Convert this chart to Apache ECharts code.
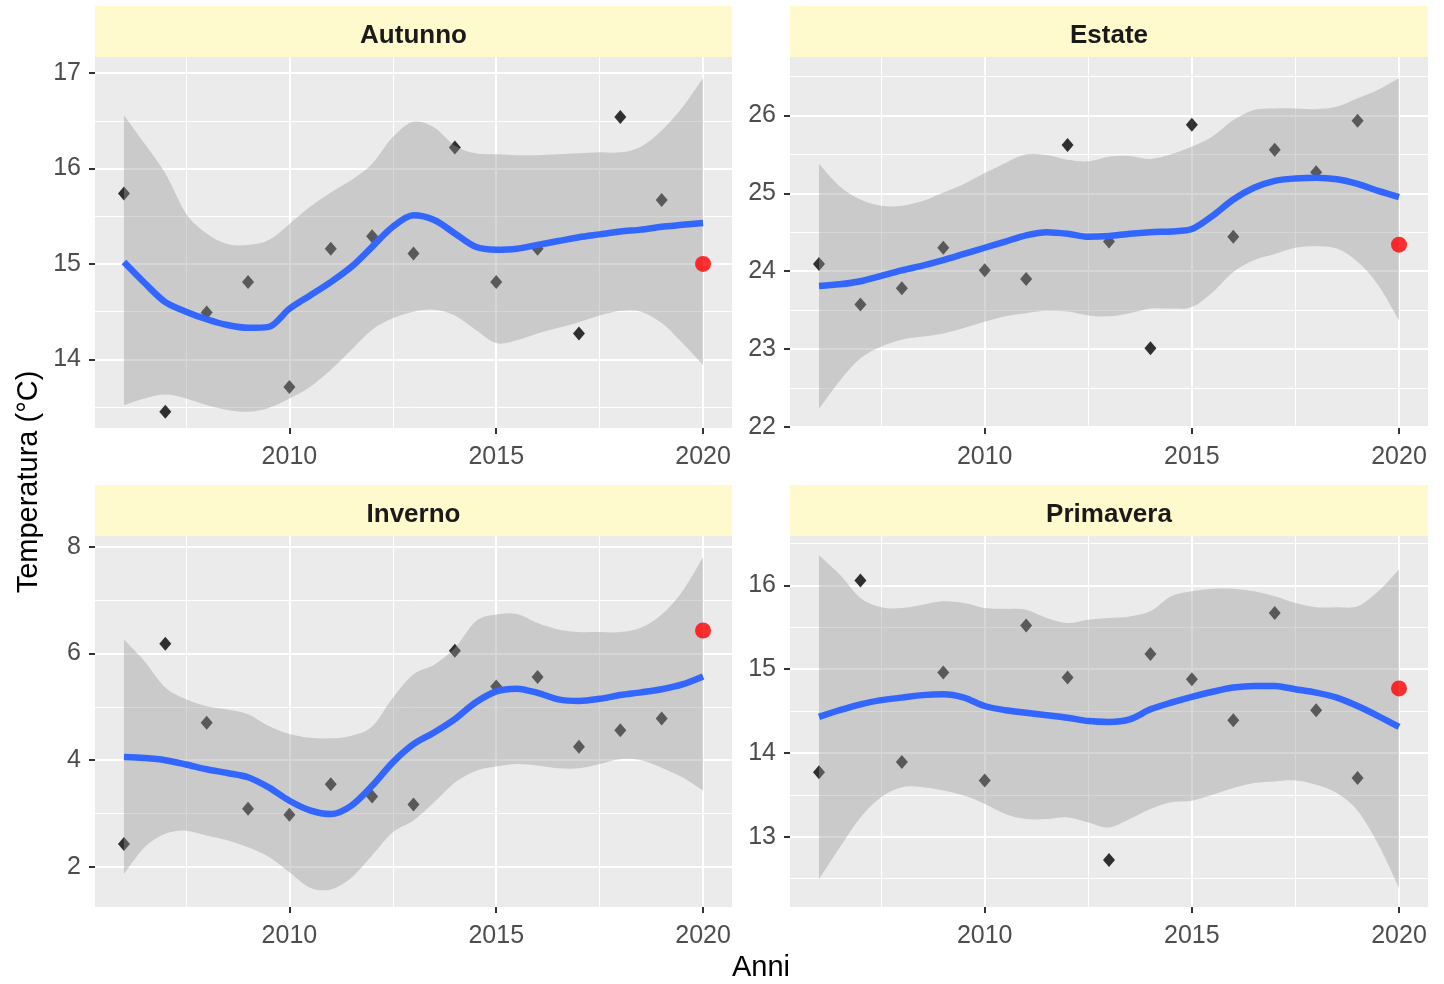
<!DOCTYPE html>
<html><head><meta charset="utf-8">
<script src="https://cdn.jsdelivr.net/npm/echarts@6.0.0/dist/echarts.min.js"></script>
<style>html,body{margin:0;padding:0;background:#fff}#c{width:1444px;height:984px}</style>
</head><body><div id="c"></div>
<script>
// ---------- DATA ----------
const panelNames = ['Autunno', 'Estate', 'Inverno', 'Primavera'];
const years = [2006, 2007, 2008, 2009, 2010, 2011, 2012, 2013, 2014, 2015, 2016, 2017, 2018, 2019];
const year2020 = 2020;

const autunnoObs   = [15.74, 13.45, 14.49, 14.81, 13.71, 15.16, 15.29, 15.11, 16.22, 14.81, 15.16, 14.27, 16.54, 15.67];
const estateObs    = [24.09, 23.57, 23.78, 24.30, 24.01, 23.90, 25.62, 24.38, 23.01, 25.88, 24.44, 25.56, 25.27, 25.93];
const invernoObs   = [2.43, 6.18, 4.70, 3.09, 2.98, 3.55, 3.32, 3.17, 6.05, 5.38, 5.56, 4.25, 4.56, 4.78];
const primaveraObs = [13.77, 16.06, 13.89, 14.96, 13.67, 15.52, 14.90, 12.72, 15.18, 14.88, 14.39, 15.67, 14.51, 13.70];

const autunno2020 = 15.00;
const estate2020 = 24.34;
const inverno2020 = 6.43;
const primavera2020 = 14.77;

const bandYears = [2006, 2006.5, 2007, 2007.5, 2008, 2008.5, 2009, 2009.5, 2010, 2010.5, 2011, 2011.5, 2012, 2012.5, 2013, 2013.5, 2014, 2014.5, 2015, 2015.5, 2016, 2016.5, 2017, 2017.5, 2018, 2018.5, 2019, 2019.5, 2020];

const autunnoFit   = [15.02, 14.80, 14.60, 14.50, 14.42, 14.36, 14.33, 14.34, 14.53, 14.67, 14.81, 14.97, 15.18, 15.39, 15.51, 15.46, 15.32, 15.18, 15.15, 15.16, 15.20, 15.24, 15.28, 15.31, 15.34, 15.36, 15.39, 15.41, 15.43];
const autunnoLower = [13.52, 13.59, 13.63, 13.59, 13.52, 13.47, 13.45, 13.49, 13.59, 13.71, 13.89, 14.10, 14.31, 14.43, 14.50, 14.52, 14.46, 14.31, 14.17, 14.20, 14.27, 14.33, 14.39, 14.46, 14.51, 14.50, 14.38, 14.17, 13.94];
const autunnoUpper = [16.56, 16.26, 15.95, 15.53, 15.32, 15.21, 15.20, 15.25, 15.42, 15.60, 15.75, 15.88, 16.05, 16.33, 16.49, 16.43, 16.24, 16.16, 16.15, 16.14, 16.14, 16.15, 16.16, 16.17, 16.17, 16.23, 16.40, 16.64, 16.95];

const estateFit   = [23.81, 23.83, 23.87, 23.94, 24.01, 24.07, 24.14, 24.22, 24.30, 24.38, 24.46, 24.50, 24.48, 24.44, 24.45, 24.48, 24.50, 24.51, 24.54, 24.71, 24.92, 25.07, 25.16, 25.19, 25.20, 25.18, 25.12, 25.03, 24.95];
const estateLower = [22.23, 22.59, 22.88, 23.03, 23.12, 23.16, 23.20, 23.27, 23.35, 23.42, 23.46, 23.49, 23.48, 23.43, 23.42, 23.46, 23.52, 23.52, 23.54, 23.73, 23.99, 24.14, 24.22, 24.30, 24.32, 24.29, 24.12, 23.82, 23.37];
const estateUpper = [25.38, 25.09, 24.92, 24.84, 24.84, 24.90, 25.01, 25.12, 25.26, 25.39, 25.50, 25.49, 25.43, 25.41, 25.47, 25.48, 25.44, 25.50, 25.60, 25.73, 25.94, 26.07, 26.09, 26.09, 26.08, 26.11, 26.22, 26.33, 26.48];

const invernoFit   = [4.06, 4.04, 4.00, 3.92, 3.83, 3.76, 3.68, 3.49, 3.24, 3.06, 2.99, 3.15, 3.52, 3.96, 4.30, 4.52, 4.77, 5.08, 5.29, 5.34, 5.26, 5.14, 5.11, 5.15, 5.22, 5.27, 5.33, 5.42, 5.57];
const invernoLower = [1.87, 2.37, 2.62, 2.68, 2.59, 2.50, 2.37, 2.19, 1.90, 1.61, 1.58, 1.80, 2.22, 2.65, 2.87, 3.21, 3.58, 3.80, 3.88, 3.93, 3.90, 3.85, 3.85, 3.93, 4.02, 4.00, 3.86, 3.68, 3.43];
const invernoUpper = [6.26, 5.85, 5.36, 5.14, 5.01, 4.95, 4.86, 4.64, 4.49, 4.42, 4.41, 4.46, 4.63, 5.17, 5.61, 5.79, 6.10, 6.60, 6.73, 6.74, 6.57, 6.45, 6.40, 6.40, 6.40, 6.48, 6.73, 7.16, 7.80];

const primaveraFit   = [14.43, 14.51, 14.58, 14.63, 14.66, 14.69, 14.70, 14.66, 14.56, 14.51, 14.48, 14.45, 14.42, 14.38, 14.37, 14.40, 14.52, 14.60, 14.67, 14.73, 14.78, 14.80, 14.80, 14.76, 14.72, 14.66, 14.56, 14.44, 14.31];
const primaveraLower = [12.49, 12.87, 13.23, 13.47, 13.59, 13.59, 13.55, 13.49, 13.39, 13.27, 13.21, 13.21, 13.23, 13.17, 13.11, 13.21, 13.33, 13.41, 13.43, 13.50, 13.58, 13.64, 13.66, 13.67, 13.62, 13.52, 13.31, 12.91, 12.39];
const primaveraUpper = [16.36, 16.13, 15.85, 15.74, 15.73, 15.77, 15.81, 15.79, 15.73, 15.72, 15.71, 15.61, 15.55, 15.59, 15.61, 15.63, 15.69, 15.87, 15.93, 15.96, 15.96, 15.93, 15.87, 15.79, 15.74, 15.74, 15.75, 15.93, 16.19];

const xTicks = [2010, 2015, 2020];
const xMinorTicks = [2007.5, 2012.5, 2017.5];
const autunnoTicks = [14, 15, 16, 17];
const autunnoMinor = [13.5, 14.5, 15.5, 16.5];
const estateTicks = [22, 23, 24, 25, 26];
const estateMinor = [22.5, 23.5, 24.5, 25.5, 26.5];
const invernoTicks = [2, 4, 6, 8];
const invernoMinor = [3, 5, 7];
const primaveraTicks = [13, 14, 15, 16];
const primaveraMinor = [12.5, 13.5, 14.5, 15.5, 16.5];

const yLabel = 'Temperatura (°C)';
const xLabel = 'Anni';

// ---------- BUILD ----------
const panels = [
  {obs: autunnoObs, last: autunno2020, fit: autunnoFit, lo: autunnoLower, hi: autunnoUpper, ticks: autunnoTicks, minor: autunnoMinor, ymin: 13.28, ymax: 17.17},
  {obs: estateObs, last: estate2020, fit: estateFit, lo: estateLower, hi: estateUpper, ticks: estateTicks, minor: estateMinor, ymin: 21.985, ymax: 26.75},
  {obs: invernoObs, last: inverno2020, fit: invernoFit, lo: invernoLower, hi: invernoUpper, ticks: invernoTicks, minor: invernoMinor, ymin: 1.25, ymax: 8.2},
  {obs: primaveraObs, last: primavera2020, fit: primaveraFit, lo: primaveraLower, hi: primaveraUpper, ticks: primaveraTicks, minor: primaveraMinor, ymin: 12.16, ymax: 16.59}
];
const boxes = [
  {left: 95, top: 57, width: 637, height: 371},
  {left: 790, top: 57, width: 638, height: 371},
  {left: 95, top: 536, width: 637, height: 371},
  {left: 790, top: 536, width: 638, height: 371}
];
const FONT = '"Liberation Sans", Arial, sans-serif';
const xMin = 2005.3, xMax = 2020.7;

// Catmull-Rom to cubic Bezier path through screen points
function curvePath(pts, start) {
  let d = start ? 'M' + pts[0][0] + ',' + pts[0][1] : 'L' + pts[0][0] + ',' + pts[0][1];
  for (let k = 0; k < pts.length - 1; k++) {
    const p0 = pts[k - 1] || pts[k], p1 = pts[k], p2 = pts[k + 1], p3 = pts[k + 2] || pts[k + 1];
    const c1x = p1[0] + (p2[0] - p0[0]) / 6, c1y = p1[1] + (p2[1] - p0[1]) / 6;
    const c2x = p2[0] - (p3[0] - p1[0]) / 6, c2y = p2[1] - (p3[1] - p1[1]) / 6;
    d += 'C' + c1x + ',' + c1y + ' ' + c2x + ',' + c2y + ' ' + p2[0] + ',' + p2[1];
  }
  return d;
}

function bandRender(params, api) {
  if (params.dataIndexInside !== 0) return null;
  const n = params.dataInsideLength;
  const up = [], lo = [];
  for (let k = 0; k < n; k++) {
    const x = api.value(0, k);
    up.push(api.coord([x, api.value(2, k)]));
    lo.push(api.coord([x, api.value(1, k)]));
  }
  lo.reverse();
  const d = curvePath(up, true) + curvePath(lo, false) + 'Z';
  return {type: 'path', shape: {pathData: d}, style: {fill: 'rgba(153,153,153,0.4)', stroke: null}};
}

const grid = [], xAxis = [], yAxis = [], series = [], graphic = [];
panels.forEach((p, i) => {
  const b = boxes[i];
  grid.push({left: b.left, top: b.top, width: b.width, height: b.height, show: true, backgroundColor: '#EBEBEB', borderWidth: 0, containLabel: false});
  xAxis.push({
    type: 'value', gridIndex: i, min: xMin, max: xMax,
    axisLine: {show: false},
    axisTick: {show: true, length: 6, lineStyle: {color: '#333333', width: 2}, customValues: xTicks},
    axisLabel: {show: true, customValues: xTicks, color: '#4D4D4D', fontSize: 25, fontFamily: FONT, margin: 17, formatter: v => String(v)},
    splitLine: {show: true, lineStyle: {color: '#FFFFFF', width: 2}}
  }, {
    type: 'value', gridIndex: i, min: xMin, max: xMax,
    axisLine: {show: false},
    axisTick: {show: false, customValues: xMinorTicks},
    axisLabel: {show: false, customValues: xMinorTicks},
    splitLine: {show: true, lineStyle: {color: '#FFFFFF', width: 1}}
  });
  yAxis.push({
    type: 'value', gridIndex: i, min: p.ymin, max: p.ymax, position: 'left',
    axisLine: {show: false},
    axisTick: {show: true, length: 6, lineStyle: {color: '#333333', width: 2}, customValues: p.ticks},
    axisLabel: {show: true, customValues: p.ticks, color: '#4D4D4D', fontSize: 25, fontFamily: FONT, margin: 14, formatter: v => String(v)},
    splitLine: {show: true, lineStyle: {color: '#FFFFFF', width: 2}}
  }, {
    type: 'value', gridIndex: i, min: p.ymin, max: p.ymax, position: 'left',
    axisLine: {show: false},
    axisTick: {show: false, customValues: p.minor},
    axisLabel: {show: false, customValues: p.minor},
    splitLine: {show: true, lineStyle: {color: '#FFFFFF', width: 1}}
  });
  const xi = 2 * i, yi = 2 * i;
  series.push({
    type: 'scatter', xAxisIndex: xi, yAxisIndex: yi, z: 1, silent: true,
    symbol: 'diamond', symbolSize: [12, 14], itemStyle: {color: '#000000'},
    data: years.map((y, k) => [y, p.obs[k]])
  });
  series.push({
    type: 'custom', xAxisIndex: xi, yAxisIndex: yi, z: 2, silent: true,
    renderItem: bandRender,
    encode: {x: 0, y: [1, 2]},
    data: bandYears.map((y, k) => [y, p.lo[k], p.hi[k]])
  });
  series.push({
    type: 'line', xAxisIndex: xi, yAxisIndex: yi, z: 3, silent: true,
    symbol: 'none', smooth: 0.3, lineStyle: {color: '#3366FF', width: 6.5},
    data: bandYears.map((y, k) => [y, p.fit[k]])
  });
  series.push({
    type: 'scatter', xAxisIndex: xi, yAxisIndex: yi, z: 4, silent: true,
    symbol: 'circle', symbolSize: 16, itemStyle: {color: '#FF0000'},
    data: [[year2020, p.last]]
  });
  graphic.push({type: 'rect', left: b.left, top: b.top - 51, shape: {width: b.width, height: 51}, style: {fill: '#FFFACD'}, silent: true});
  graphic.push({type: 'text', x: b.left + b.width / 2, y: b.top - 21, style: {text: panelNames[i], fill: '#1A1A1A', font: 'bold 26px ' + FONT, align: 'center', verticalAlign: 'middle'}, silent: true});
});
graphic.push({type: 'text', x: 29, y: 482, rotation: Math.PI / 2, style: {text: yLabel, fill: '#000000', font: '29px ' + FONT, align: 'center', verticalAlign: 'middle'}, silent: true});
graphic.push({type: 'text', x: 761, y: 968, style: {text: xLabel, fill: '#000000', font: '29px ' + FONT, align: 'center', verticalAlign: 'middle'}, silent: true});

const chart = echarts.init(document.getElementById('c'), null, {renderer: 'canvas'});
chart.setOption({animation: false, backgroundColor: '#FFFFFF', grid, xAxis, yAxis, series, graphic});
</script></body></html>
